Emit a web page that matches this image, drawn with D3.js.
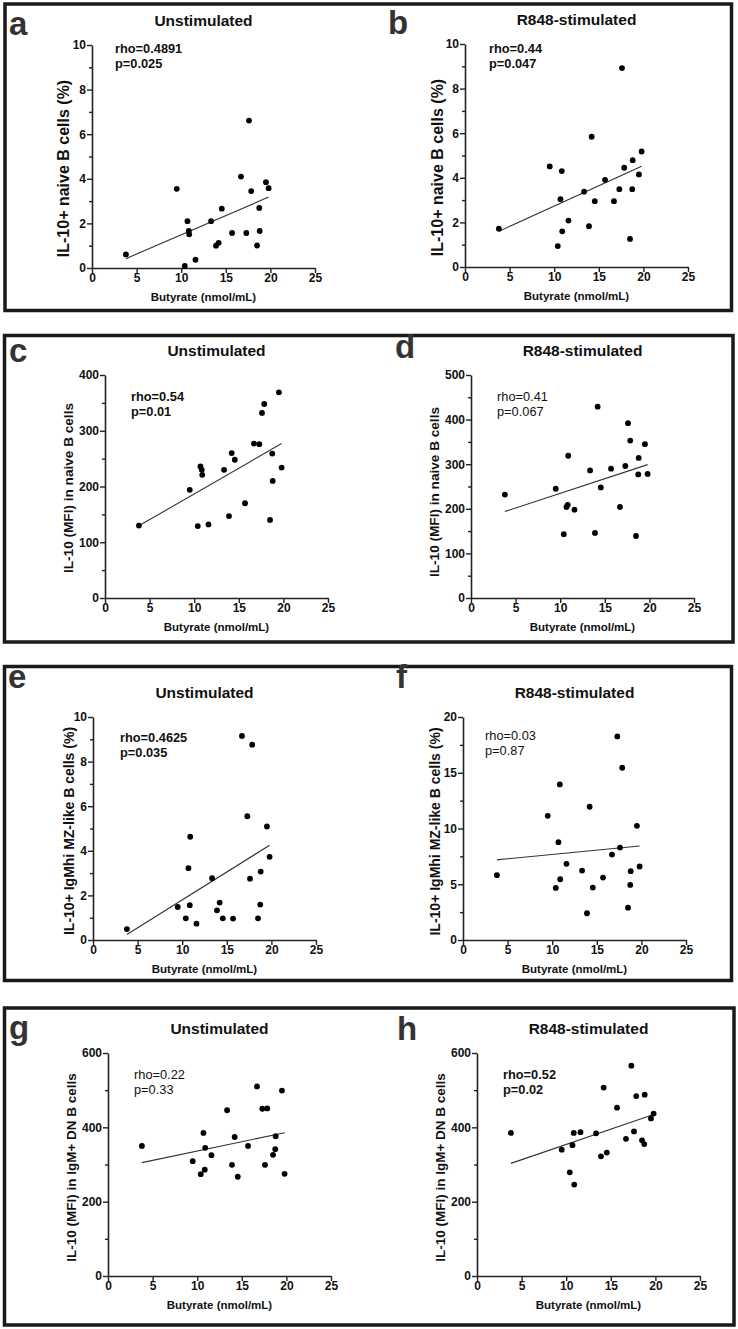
<!DOCTYPE html>
<html>
<head>
<meta charset="utf-8">
<script src="https://cdn.jsdelivr.net/npm/d3@7"></script>
<style>
  body { margin: 0; background: #fff; }
  svg { display: block; }
  text { font-family: "Liberation Sans", Arial, Helvetica, sans-serif; fill: #111; }
</style>
</head>
<body>
<svg id="chart" width="738" height="1329"></svg>
<script>
// ---------------- DATA ----------------
const butyrate = [3.8, 9.5, 10.4, 10.7, 10.85, 10.9, 11.6, 13.35, 13.9, 14.2, 14.55,
                  15.7, 16.7, 17.3, 17.6, 17.85, 18.5, 18.75, 18.8, 19.5, 19.8];
const xTicks = [0, 5, 10, 15, 20, 25];

const naivePctUnstim = [0.61, 3.55, 0.09, 2.10, 1.66, 1.51, 0.37, 2.10, 1.00, 1.13, 2.66,
                        1.57, 4.10, 1.57, 6.61, 3.45, 1.01, 2.69, 1.66, 3.85, 3.58];
const naivePctR848   = [1.72, 4.51, 0.94, 3.04, 4.30, 1.60, 2.08, 3.38, 1.83, 5.84, 2.95,
                        3.91, 2.95, 3.49, 8.92, 4.45, 1.26, 3.49, 4.79, 4.15, 5.18];
const naiveMfiUnstim = [130, 194, 129, 236, 230, 221, 132, 230, 147, 260, 248,
                        170, 277, 276, 332, 348, 140, 259, 210, 369, 234];
const naiveMfiR848   = [232, 245, 143, 204, 209, 319, 198, 286, 146, 429, 248,
                        290, 204, 296, 392, 353, 139, 277, 314, 345, 278];
const mzPctUnstim    = [0.49, 1.48, 0.97, 3.22, 1.56, 4.63, 0.73, 2.77, 1.33, 1.68, 0.97,
                        0.96, 9.15, 5.55, 2.75, 8.76, 0.97, 1.59, 3.07, 5.09, 3.73];
const mzPctR848      = [5.81, 11.14, 4.67, 8.77, 13.95, 5.45, 6.83, 6.23, 2.40, 11.95, 4.70,
                        5.60, 7.66, 18.26, 8.29, 15.45, 2.90, 4.94, 6.17, 10.24, 6.59];
const dnMfiUnstim    = [350, 309, 274, 385, 286, 345, 325, 446, 299, 374, 267,
                        350, 510, 450, 299, 451, 326, 341, 376, 499, 275];
const dnMfiR848      = [385, 340, 279, 352, 385, 246, 387, 384, 322, 507, 332,
                        453, 369, 566, 389, 484, 365, 355, 488, 424, 437];

// regression-line end points at x = fitX
const fitX = [3.8, 19.8];
const fitA = [0.42, 3.18];
const fitB = [1.60, 4.52];
const fitC = [129.5, 277];
const fitD = [194, 299];
const fitE = [0.25, 4.25];
const fitF = [7.19, 8.43];
const fitG = [305, 385.5];
const fitH = [303, 434.6];

const panelLetters = ["a", "b", "c", "d", "e", "f", "g", "h"];
const panelTitles = ["Unstimulated", "R848-stimulated", "Unstimulated", "R848-stimulated",
                     "Unstimulated", "R848-stimulated", "Unstimulated", "R848-stimulated"];
const yLabels = ["IL-10+ naive B cells (%)", "IL-10+ naive B cells (%)",
                 "IL-10 (MFI) in naive B cells", "IL-10 (MFI) in naive B cells",
                 "IL-10+ IgMhi MZ-like B cells (%)", "IL-10+ IgMhi MZ-like B cells (%)",
                 "IL-10 (MFI) in IgM+ DN B cells", "IL-10 (MFI) in IgM+ DN B cells"];
const xLabel = "Butyrate (nmol/mL)";
const rhoLabels = ["rho=0.4891", "rho=0.44", "rho=0.54", "rho=0.41",
                   "rho=0.4625", "rho=0.03", "rho=0.22", "rho=0.52"];
const pLabels = ["p=0.025", "p=0.047", "p=0.01", "p=0.067",
                 "p=0.035", "p=0.87", "p=0.33", "p=0.02"];
const yMax = [10, 10, 400, 500, 10, 20, 600, 600];
const yMajorStep = [2, 2, 100, 100, 2, 5, 200, 200];
const yMinorStep = [1, 1, 50, 50, 1, 2.5, 100, 100];

const ySeries = [naivePctUnstim, naivePctR848, naiveMfiUnstim, naiveMfiR848,
                 mzPctUnstim, mzPctR848, dnMfiUnstim, dnMfiR848];
const fits = [fitA, fitB, fitC, fitD, fitE, fitF, fitG, fitH];

// ---------------- LAYOUT ----------------
const PW = 223, PH = 223;
const layout = [
  {ox: 92,  oy: 268,  lx: 9,   ly: 35,   sx: 115, sy: 52.7, bold: true,  ylx: 63,  yly: 168.5, yfs: 16},
  {ox: 465, oy: 267,  lx: 388, ly: 33.5, sx: 489, sy: 52.7, bold: true,  ylx: 437, yly: 167.5, yfs: 16},
  {ox: 105, oy: 598,  lx: 9,   ly: 362,  sx: 131, sy: 401,  bold: true,  ylx: 68,  yly: 488,   yfs: 13.6},
  {ox: 471, oy: 598,  lx: 395, ly: 358,  sx: 497, sy: 401,  bold: false, ylx: 434, yly: 492,   yfs: 13.6},
  {ox: 93,  oy: 940,  lx: 8,   ly: 688,  sx: 120, sy: 741.7, bold: true, ylx: 69,  yly: 831,   yfs: 14},
  {ox: 463, oy: 940,  lx: 396, ly: 688,  sx: 485, sy: 740,  bold: false, ylx: 435, yly: 831.5, yfs: 14},
  {ox: 108, oy: 1276, lx: 9,   ly: 1039, sx: 134, sy: 1079, bold: false, ylx: 71,  yly: 1167.5, yfs: 13.5},
  {ox: 477, oy: 1276, lx: 397, ly: 1040, sx: 503, sy: 1079, bold: true,  ylx: 440, yly: 1167.5, yfs: 13.5}
];
const rows = [
  {x: 5,   y: 4,     w: 726.5, h: 306.5},
  {x: 4.5, y: 335.5, w: 728.5, h: 306.5},
  {x: 4.5, y: 666.5, w: 727,   h: 314},
  {x: 4.5, y: 1008,  w: 729.5, h: 317}
];

const svg = d3.select("#chart");
svg.append("rect").attr("width", 738).attr("height", 1329).attr("fill", "#fff");

svg.selectAll("rect.box").data(rows).enter().append("rect")
  .attr("class", "box")
  .attr("x", d => d.x).attr("y", d => d.y)
  .attr("width", d => d.w).attr("height", d => d.h)
  .attr("fill", "none").attr("stroke", "#1a1a1a").attr("stroke-width", 3.5);

layout.forEach((L, i) => {
  const g = svg.append("g");
  const x = d3.scaleLinear().domain([0, 25]).range([L.ox, L.ox + PW]);
  const y = d3.scaleLinear().domain([0, yMax[i]]).range([L.oy, L.oy - PH]);

  // panel letter
  g.append("text").attr("x", L.lx).attr("y", L.ly)
    .attr("font-size", 33).attr("font-weight", "bold").style("fill", "#333")
    .text(panelLetters[i]);

  // title
  g.append("text").attr("x", L.ox + PW / 2).attr("y", L.oy - PH - 19)
    .attr("text-anchor", "middle").attr("font-size", 15.5).attr("font-weight", "bold")
    .text(panelTitles[i]);

  // axes
  const majors = d3.range(0, yMax[i] + 1e-9, yMajorStep[i]);
  const minors = d3.range(0, yMax[i] + 1e-9, yMinorStep[i])
    .filter(v => !majors.some(m => Math.abs(m - v) < 1e-9));

  const xAxis = d3.axisBottom(x).tickValues(xTicks).tickSize(5).tickSizeOuter(0).tickPadding(0)
    .tickFormat(d3.format("d"));
  const yAxis = d3.axisLeft(y).tickValues(majors).tickSize(5).tickSizeOuter(0).tickPadding(1)
    .tickFormat(d3.format("d"));
  const yMinor = d3.axisLeft(y).tickValues(minors).tickSize(3).tickSizeOuter(0).tickFormat("");

  const gx = g.append("g").attr("transform", `translate(0,${L.oy})`).call(xAxis);
  const gy = g.append("g").attr("transform", `translate(${L.ox},0)`).call(yAxis);
  const gm = g.append("g").attr("transform", `translate(${L.ox},0)`).call(yMinor);
  gm.select(".domain").remove();
  [gx, gy, gm].forEach(a => {
    a.selectAll("path.domain").attr("stroke", "#222").attr("stroke-width", 1.6);
    a.selectAll(".tick line").attr("stroke", "#222").attr("stroke-width", 1.4);
    a.selectAll(".tick text").attr("font-size", 12).attr("font-weight", "bold")
      .attr("font-family", "'Liberation Sans', Arial, Helvetica, sans-serif").style("fill", "#111");
  });

  // axis labels
  g.append("text").attr("x", L.ox + PW / 2).attr("y", L.oy + 32.5)
    .attr("text-anchor", "middle").attr("font-size", 11.5).attr("font-weight", "bold")
    .text(xLabel);
  g.append("text")
    .attr("transform", `translate(${L.ylx},${L.yly}) rotate(-90)`)
    .attr("text-anchor", "middle").attr("dy", "0.35em")
    .attr("font-size", L.yfs).attr("font-weight", "bold")
    .text(yLabels[i]);

  // stats
  const st = g.append("text").attr("font-size", 12.8)
    .attr("font-weight", L.bold ? "bold" : "normal");
  st.append("tspan").attr("x", L.sx).attr("y", L.sy).text(rhoLabels[i]);
  st.append("tspan").attr("x", L.sx).attr("y", L.sy + 15).text(pLabels[i]);

  // regression line
  g.append("line")
    .attr("x1", x(fitX[0])).attr("y1", y(fits[i][0]))
    .attr("x2", x(fitX[1])).attr("y2", y(fits[i][1]))
    .attr("stroke", "#333").attr("stroke-width", 1.1);

  // points
  g.selectAll("circle").data(butyrate.map((b, k) => [b, ySeries[i][k]]))
    .enter().append("circle")
    .attr("cx", d => x(d[0])).attr("cy", d => y(d[1]))
    .attr("r", 2.9).attr("fill", "#000");
});
</script>
</body>
</html>
